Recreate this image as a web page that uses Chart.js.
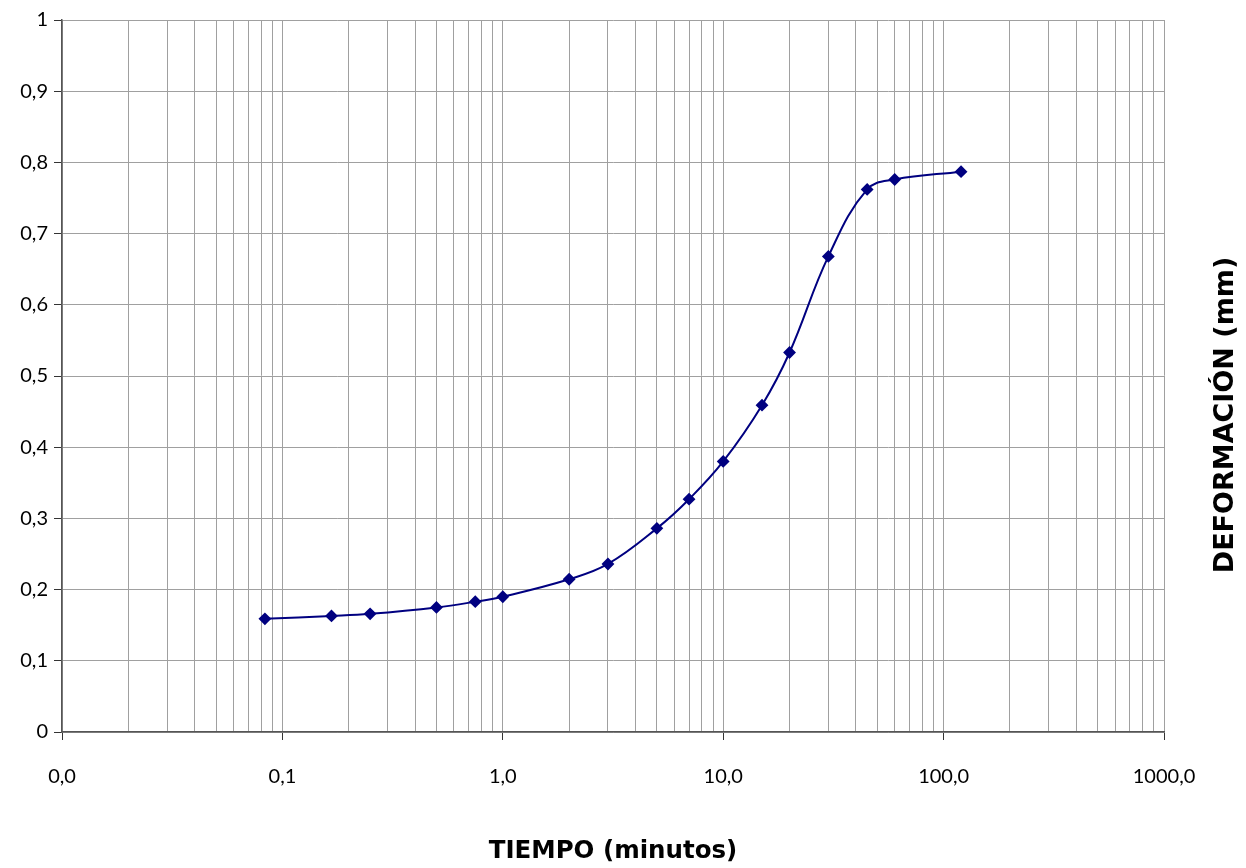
<!DOCTYPE html>
<html>
<head>
<meta charset="utf-8">
<style>
  html, body { margin: 0; padding: 0; background: #ffffff; }
  #wrap { width: 1246px; height: 868px; }
</style>
<script src="https://cdn.jsdelivr.net/npm/chart.js@4.4.1/dist/chart.umd.min.js"></script>
</head>
<body>
<div id="wrap"><canvas id="c" width="1246" height="868"></canvas></div>
<script>
// Data (time in minutes, deformation in mm)
const tiempo = [0.0833, 0.167, 0.25, 0.5, 0.75, 1, 2, 3, 5, 7, 10, 15, 20, 30, 45, 60, 120];
const deformacion = [0.159, 0.163, 0.166, 0.175, 0.183, 0.190, 0.2145, 0.236, 0.286, 0.327, 0.380, 0.459, 0.533, 0.668, 0.762, 0.776, 0.787];
const xMajorTicks = [0.01, 0.1, 1, 10, 100, 1000];
const xMajorLabels = ['0,0', '0,1', '1,0', '10,0', '100,0', '1000,0'];
const minorMultipliers = [2, 3, 4, 5, 6, 7, 8, 9];
const yTicks = [0, 0.1, 0.2, 0.3, 0.4, 0.5, 0.6, 0.7, 0.8, 0.9, 1];
const yLabels = ['0', '0,1', '0,2', '0,3', '0,4', '0,5', '0,6', '0,7', '0,8', '0,9', '1'];
const xTitle = 'TIEMPO (minutos)';
const yTitle = 'DEFORMACIÓN (mm)';

const FONT = 'Lato, "Open Sans", "DejaVu Sans", sans-serif';
const TITLE_FONT = '"DejaVu Sans", "Open Sans", sans-serif';

const points = tiempo.map((t, i) => ({ x: t, y: deformacion[i] }));

function buildXTicks() {
  const out = [];
  for (let d = 0; d < xMajorTicks.length; d++) {
    out.push({ value: xMajorTicks[d], major: true });
    if (d < xMajorTicks.length - 1) {
      minorMultipliers.forEach(m => out.push({ value: xMajorTicks[d] * m, major: false }));
    }
  }
  return out;
}

const yTitlePlugin = {
  id: 'yTitleRight',
  afterDraw(chart) {
    const ctx = chart.ctx;
    ctx.save();
    ctx.translate(1226, 415);
    ctx.rotate(-Math.PI / 2);
    ctx.font = 'bold 27px ' + TITLE_FONT;
    ctx.fillStyle = '#000000';
    ctx.textAlign = 'center';
    ctx.textBaseline = 'middle';
    ctx.fillText(yTitle, 0, 0);
    ctx.restore();
  }
};

new Chart(document.getElementById('c'), {
  type: 'line',
  data: {
    datasets: [{
      data: points,
      borderColor: '#000080',
      backgroundColor: '#000080',
      borderWidth: 2,
      pointStyle: 'rectRot',
      pointRadius: 5,
      pointHoverRadius: 5,
      tension: 0.4,
      fill: false
    }]
  },
  options: {
    responsive: false,
    animation: false,
    layout: { padding: { top: 20, right: 82, left: 0, bottom: 0 } },
    plugins: { legend: { display: false }, tooltip: { enabled: false } },
    scales: {
      x: {
        type: 'logarithmic',
        min: 0.01,
        max: 1000,
        afterBuildTicks(scale) { scale.ticks = buildXTicks(); },
        afterFit(scale) { scale.height = 136; },
        border: { display: true, color: '#555555', width: 1.5 },
        grid: {
          color: '#a0a0a0',
          lineWidth: 1,
          drawTicks: true,
          tickLength: 8,
          tickColor: (c) => (c.tick && c.tick.major) ? '#333333' : 'rgba(0,0,0,0)'
        },
        ticks: {
          autoSkip: false,
          maxRotation: 0,
          padding: 25,
          color: '#000000',
          font: { family: FONT, size: 20 },
          callback: function (value, index, ticks) {
            const t = ticks[index];
            if (!t.major) return '';
            const k = xMajorTicks.findIndex(v => Math.abs(Math.log10(v) - Math.log10(value)) < 1e-6);
            return k >= 0 ? xMajorLabels[k] : '';
          }
        },
        title: {
          display: true,
          text: xTitle,
          color: '#000000',
          font: { family: TITLE_FONT, size: 24.5, weight: 'bold' },
          padding: { top: 0, bottom: 2 }
        }
      },
      y: {
        type: 'linear',
        min: 0,
        max: 1,
        afterBuildTicks(scale) { scale.ticks = yTicks.map(v => ({ value: v })); },
        afterFit(scale) { scale.width = 62; },
        border: { display: true, color: '#555555', width: 1.5 },
        grid: {
          color: '#a0a0a0',
          lineWidth: 1,
          drawTicks: true,
          tickLength: 8,
          tickColor: '#333333'
        },
        ticks: {
          autoSkip: false,
          padding: 6,
          color: '#000000',
          font: { family: FONT, size: 20 },
          callback: function (value, index) { return yLabels[index]; }
        }
      }
    }
  },
  plugins: [yTitlePlugin]
});
</script>
</body>
</html>
